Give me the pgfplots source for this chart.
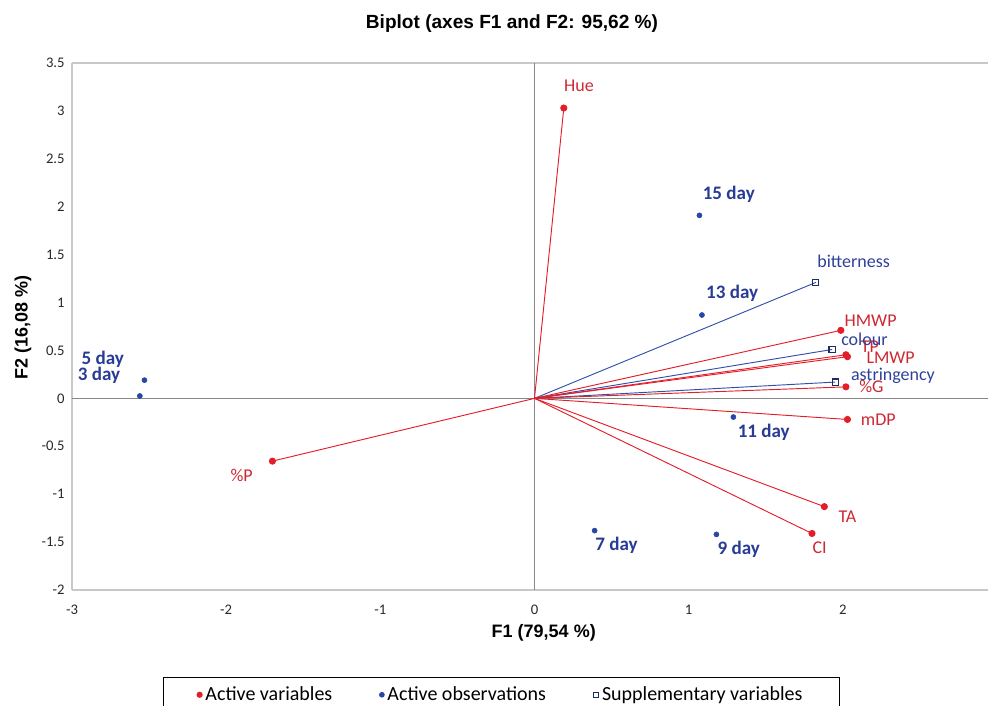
\documentclass[border=0pt]{standalone}
\usepackage{fontspec}
\setmainfont{Carlito}
\newfontfamily\arialfont{Liberation Sans}
\usepackage{pgfplots}
\pgfplotsset{compat=1.18}

\definecolor{actred}{RGB}{228,30,40}
\definecolor{redtext}{RGB}{205,40,50}
\definecolor{obsblue}{RGB}{40,70,165}
\definecolor{obstext}{RGB}{40,60,150}
\definecolor{supblue}{RGB}{50,80,170}
\definecolor{suptext}{RGB}{45,65,155}
\definecolor{sqborder}{RGB}{30,45,95}
\definecolor{framegray}{RGB}{200,200,200}
\definecolor{zerogray}{RGB}{135,135,135}
\definecolor{tickgray}{RGB}{40,40,40}

\tikzset{
  varlabel/.style={text=redtext, font=\fontsize{13.5}{15}\selectfont, anchor=center, inner sep=0pt},
  suplabel/.style={text=suptext, font=\fontsize{13.5}{15}\selectfont, anchor=center, inner sep=0pt},
  obslabel/.style={text=obstext, font=\bfseries\fontsize{14.3}{16}\selectfont, anchor=center, inner sep=0pt},
}

\begin{document}
\begin{tikzpicture}
\path[use as bounding box] (0,0) rectangle (741pt,-529.5pt);
\begin{axis}[
  at={(54pt,-442.5pt)}, anchor=south west,
  scale only axis, width=693.75pt, height=395.25pt,
  xmin=-3, xmax=3, ymin=-2, ymax=3.5,
  xtick={-3,-2,...,2}, ytick={-2,-1.5,...,3.5},
  axis x line*=box, axis y line*=left,
  axis line style={framegray, line width=1.1pt},
  major tick length=0pt,
  ticklabel style={font=\fontsize{11}{13}\selectfont, text=tickgray},
  /pgf/number format/assume math mode=true,
  yticklabel style={xshift=-2pt},
  xticklabel style={yshift=-8pt},
  title={Biplot (axes F1 and F2: 95,62 \%)},
  title style={at={(axis description cs:0.4757,1.059)}, anchor=center, yshift=0pt,
    font=\arialfont\bfseries\fontsize{14.3}{16}\selectfont},
  xlabel={F1 (79,54 \%)},
  xlabel style={at={(axis description cs:0.510,-0.0816)}, anchor=center,
    font=\arialfont\bfseries\fontsize{13.5}{16}\selectfont},
  ylabel={F2 (16,08 \%)},
  ylabel style={at={(axis description cs:-0.053,0.499)}, anchor=center,
    font=\arialfont\bfseries\fontsize{13.5}{16}\selectfont},
  clip=false,
  legend columns=3,
  legend image code/.code={\draw[#1] plot coordinates {(0cm,0cm)};},
  legend style={at={(axis description cs:0.4643,-0.165)}, anchor=north,
    draw=black, line width=0.8pt, inner xsep=25pt, inner ysep=5pt,
    font=\fontsize{15}{18}\selectfont,
    nodes={inner xsep=2.5pt},
    /tikz/every even column/.append style={column sep=33pt}},
]

% zero lines with ticks on the vertical one
\draw[zerogray, line width=0.9pt] (axis cs:-3,0) -- (axis cs:3,0);
\draw[zerogray, line width=0.9pt] (axis cs:0,-2) -- (axis cs:0,3.5);
\pgfplotsinvokeforeach{-2,-1.5,...,3.5}{
  \draw[zerogray, line width=0.9pt] (axis cs:0,#1) ++(-3pt,0) -- ++(6pt,0);
}

% supplementary variables
\pgfplotsset{supvar/.style={supblue, line width=0.7pt, mark=square, mark indices={2},
  mark options={draw=sqborder, fill=white, line width=0.8pt, mark size=2.3pt}, forget plot}}
\addplot[supvar] coordinates {(0,0) (1.825,1.21)};  % bitterness
\addplot[supvar] coordinates {(0,0) (1.93,0.51)};   % colour
\addplot[supvar] coordinates {(0,0) (1.95,0.17)};   % astringency

% active variables
\pgfplotsset{actvar/.style={actred, line width=0.7pt, mark=*, mark indices={2},
  mark options={fill=actred, draw=actred, mark size=2.3pt}, forget plot}}
\addplot[actvar] coordinates {(0,0) (0.19,3.03)};   % Hue
\addplot[actvar] coordinates {(0,0) (1.987,0.71)};  % HMWP
\addplot[actvar] coordinates {(0,0) (2.02,0.455)};  % TP
\addplot[actvar] coordinates {(0,0) (2.03,0.435)};  % LMWP
\addplot[actvar] coordinates {(0,0) (2.02,0.12)};   % %G
\addplot[actvar] coordinates {(0,0) (2.03,-0.22)};  % mDP
\addplot[actvar] coordinates {(0,0) (1.88,-1.13)};  % TA
\addplot[actvar] coordinates {(0,0) (1.80,-1.41)};  % CI
\addplot[actvar] coordinates {(0,0) (-1.70,-0.655)};% %P

% active observations
\addplot[only marks, mark=*, mark size=1.9pt, color=obsblue, forget plot]
  coordinates {(-2.56,0.025) (-2.53,0.19) (0.39,-1.38) (1.18,-1.42)
               (1.29,-0.195) (1.086,0.87) (1.07,1.91)};

% labels
\node[varlabel] at (axis cs:0.289,3.257) {Hue};
\node[varlabel] at (axis cs:2.18,0.814) {HMWP};
\node[varlabel] at (axis cs:2.175,0.543) {TP};
\node[varlabel] at (axis cs:2.31,0.428) {LMWP};
\node[varlabel] at (axis cs:2.185,0.125) {\%G};
\node[varlabel] at (axis cs:2.23,-0.22) {mDP};
\node[varlabel] at (axis cs:2.03,-1.24) {TA};
\node[varlabel] at (axis cs:1.85,-1.56) {CI};
\node[varlabel] at (axis cs:-1.90,-0.80) {\%P};
\node[suplabel] at (axis cs:2.07,1.43) {bitterness};
\node[suplabel] at (axis cs:2.14,0.616) {colour};
\node[suplabel] at (axis cs:2.325,0.24) {astringency};
\node[obslabel] at (axis cs:1.26,2.13) {15 day};
\node[obslabel] at (axis cs:1.282,1.096) {13 day};
\node[obslabel] at (axis cs:1.487,-0.355) {11 day};
\node[obslabel] at (axis cs:0.532,-1.535) {7 day};
\node[obslabel] at (axis cs:1.325,-1.576) {9 day};
\node[obslabel] at (axis cs:-2.80,0.41) {5 day};
\node[obslabel] at (axis cs:-2.825,0.24) {3 day};

% legend
\addlegendimage{only marks, mark=*, color=actred, mark size=1.9pt}
\addlegendentry{Active variables}
\addlegendimage{only marks, mark=*, color=obsblue, mark size=1.7pt}
\addlegendentry{Active observations}
\addlegendimage{only marks, mark=square, color=sqborder, mark size=2pt, line width=0.6pt}
\addlegendentry{Supplementary variables}
\end{axis}
\end{tikzpicture}
\end{document}
